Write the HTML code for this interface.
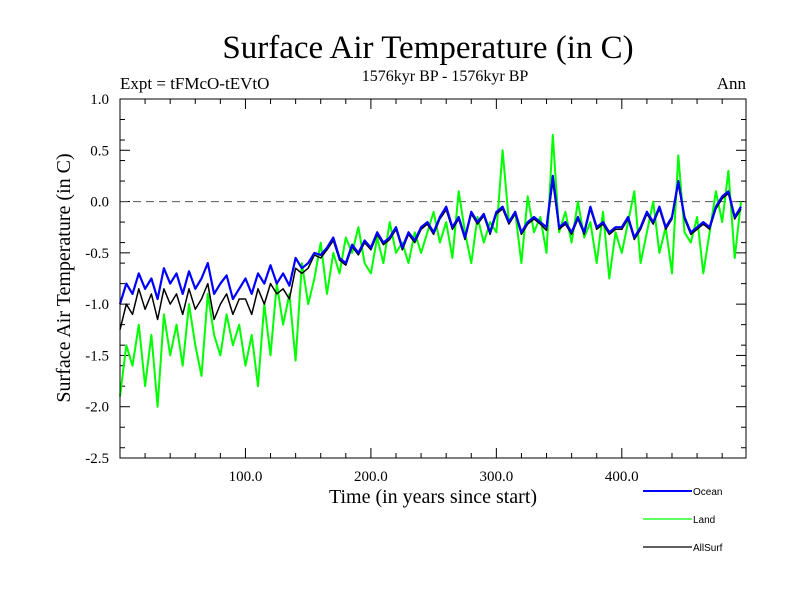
<!DOCTYPE html>
<html><head><meta charset="utf-8"><style>
body{margin:0;background:#fff;}
svg text{font-family:"Liberation Serif",serif;fill:#000;}
</style></head><body>
<svg id="chart" width="800" height="600" xmlns="http://www.w3.org/2000/svg">
<rect width="800" height="600" fill="#fff"/>
<text x="428" y="58" font-size="33" text-anchor="middle">Surface Air Temperature (in C)</text>
<text x="120" y="89" font-size="17">Expt = tFMcO-tEVtO</text>
<text x="445" y="81" font-size="16" text-anchor="middle">1576kyr BP - 1576kyr BP</text>
<text x="746" y="89" font-size="17" text-anchor="end">Ann</text>
<text transform="translate(70,278) rotate(-90)" font-size="20" text-anchor="middle">Surface Air Temperature (in C)</text>
<text x="433" y="503" font-size="20" text-anchor="middle">Time (in years since start)</text>
<g id="axes"></g>
<g id="series"></g>
<rect x="120" y="99" width="626" height="359" fill="none" stroke="#000" stroke-width="1"/>
<g>
<line x1="643" y1="491" x2="692" y2="491" stroke="#0000ff" stroke-width="2"/>
<text x="693" y="495" font-size="10" style="font-family:'Liberation Sans',sans-serif">Ocean</text>
<line x1="643" y1="519" x2="692" y2="519" stroke="#00ff00" stroke-width="1.2"/>
<text x="693" y="523" font-size="10" style="font-family:'Liberation Sans',sans-serif">Land</text>
<line x1="643" y1="547" x2="692" y2="547" stroke="#000" stroke-width="1.2"/>
<text x="693" y="551" font-size="10" style="font-family:'Liberation Sans',sans-serif">AllSurf</text>
</g>
</svg>
<script>
const startYear = 0;
const yearStep = 5;
const xTickValues = [100, 200, 300, 400];
const xTickLabels = ["100.0", "200.0", "300.0", "400.0"];
const yTickValues = [1.0, 0.5, 0.0, -0.5, -1.0, -1.5, -2.0, -2.5];
const yTickLabels = ["1.0", "0.5", "0.0", "-0.5", "-1.0", "-1.5", "-2.0", "-2.5"];
const land = [-1.9,-1.4,-1.6,-1.2,-1.8,-1.3,-2.0,-1.1,-1.5,-1.2,-1.6,-1.0,-1.4,-1.7,-0.9,-1.3,-1.5,-1.1,-1.4,-1.2,
-1.6,-1.3,-1.8,-1.0,-1.5,-0.8,-1.2,-0.9,-1.55,-0.6,-1.0,-0.75,-0.4,-0.9,-0.5,-0.7,-0.35,-0.5,-0.25,-0.6,
-0.7,-0.35,-0.6,-0.2,-0.5,-0.4,-0.6,-0.3,-0.5,-0.3,-0.1,-0.4,-0.2,-0.55,0.1,-0.3,-0.6,-0.15,-0.4,-0.2,
-0.3,0.5,-0.2,-0.1,-0.6,0.05,-0.3,-0.15,-0.5,0.65,-0.3,-0.1,-0.4,0.0,-0.35,-0.2,-0.6,-0.1,-0.75,-0.3,
-0.5,-0.2,0.1,-0.6,-0.3,0.0,-0.5,-0.25,-0.7,0.45,-0.3,-0.4,-0.15,-0.7,-0.3,0.1,-0.2,0.3,-0.55,0.0];
const allSurf = [-1.25,-1.0,-1.1,-0.85,-1.05,-0.9,-1.15,-0.85,-1.0,-0.9,-1.1,-0.85,-1.05,-0.95,-0.8,-1.15,-1.0,-0.9,-1.1,-0.95,
-0.95,-1.1,-0.85,-1.0,-0.8,-0.9,-0.85,-0.95,-0.65,-0.7,-0.65,-0.52,-0.55,-0.47,-0.38,-0.57,-0.62,-0.44,-0.52,-0.4,
-0.47,-0.32,-0.42,-0.37,-0.27,-0.47,-0.32,-0.4,-0.27,-0.22,-0.32,-0.17,-0.08,-0.27,-0.17,-0.37,-0.12,-0.22,-0.14,-0.32,
-0.12,-0.07,-0.22,-0.12,-0.32,-0.22,-0.17,-0.22,-0.28,0.2,-0.27,-0.22,-0.32,-0.17,-0.32,-0.07,-0.27,-0.22,-0.32,-0.27,
-0.27,-0.17,-0.37,-0.27,-0.12,-0.22,-0.07,-0.27,-0.17,0.17,-0.17,-0.32,-0.27,-0.22,-0.27,-0.07,0.03,0.08,-0.17,-0.07];
const ocean = [-1.0,-0.8,-0.9,-0.7,-0.85,-0.75,-0.95,-0.65,-0.8,-0.7,-0.9,-0.68,-0.85,-0.75,-0.6,-0.9,-0.8,-0.72,-0.95,-0.85,
-0.75,-0.9,-0.7,-0.8,-0.62,-0.8,-0.7,-0.82,-0.55,-0.65,-0.6,-0.5,-0.52,-0.45,-0.35,-0.55,-0.6,-0.42,-0.5,-0.38,
-0.45,-0.3,-0.4,-0.35,-0.25,-0.45,-0.3,-0.38,-0.25,-0.2,-0.3,-0.15,-0.05,-0.25,-0.15,-0.35,-0.1,-0.2,-0.12,-0.3,
-0.1,-0.05,-0.2,-0.1,-0.3,-0.2,-0.15,-0.2,-0.25,0.25,-0.25,-0.2,-0.3,-0.15,-0.3,-0.05,-0.25,-0.2,-0.3,-0.25,
-0.25,-0.15,-0.35,-0.25,-0.1,-0.2,-0.05,-0.25,-0.15,0.2,-0.15,-0.3,-0.25,-0.2,-0.25,-0.05,0.05,0.1,-0.15,-0.05];

const NS = "http://www.w3.org/2000/svg";
const X0 = 120, X1 = 746, Y0 = 99, Y1 = 458;
const xMin = 0, xMax = 499, yMin = -2.5, yMax = 1.0;
function xs(v){ return X0 + (v - xMin) / (xMax - xMin) * (X1 - X0); }
function ys(v){ return Y0 + (yMax - v) / (yMax - yMin) * (Y1 - Y0); }
function mk(tag, attrs){ const e = document.createElementNS(NS, tag); for (const k in attrs) e.setAttribute(k, attrs[k]); return e; }

const axes = document.getElementById("axes");
for (let v = 20; v < xMax; v += 20) {
  const major = v % 100 === 0;
  const len = major ? 10 : 5;
  const t1 = mk("line", {x1: xs(v), y1: Y1, x2: xs(v), y2: Y1 - len, stroke: "#000"});
  
  
  axes.appendChild(t1);
  const t2 = mk("line", {x1: xs(v), y1: Y0, x2: xs(v), y2: Y0 + len, stroke: "#000"});
  
  
  axes.appendChild(t2);
}
xTickValues.forEach((v, i) => {
  const t = mk("text", {x: xs(v), y: 481, "font-size": 15, "text-anchor": "middle"});
  t.textContent = xTickLabels[i];
  
  
  axes.appendChild(t);
});
for (let k = -25; k <= 10; k += 1) {
  const v = k / 10;
  const major = k % 5 === 0;
  if (!major && k % 2 !== 0) continue;
  const len = major ? 10 : 5;
  const t1 = mk("line", {x1: X0, y1: ys(v), x2: X0 + len, y2: ys(v), stroke: "#000"});
  
  
  axes.appendChild(t1);
  const t2 = mk("line", {x1: X1, y1: ys(v), x2: X1 - len, y2: ys(v), stroke: "#000"});
  
  
  axes.appendChild(t2);
}
yTickValues.forEach((v, i) => {
  const t = mk("text", {x: 109, y: ys(v) + 5, "font-size": 15, "text-anchor": "end"});
  t.textContent = yTickLabels[i];
  
  
  axes.appendChild(t);
});
const zero = mk("line", {x1: X0, y1: ys(0), x2: X1, y2: ys(0), stroke: "#555", "stroke-dasharray": "8,5"});


axes.appendChild(zero);

const series = document.getElementById("series");
function draw(vals, color, w, name){
  const pts = vals.map((v, i) => xs(startYear + i * yearStep).toFixed(1) + "," + ys(v).toFixed(1)).join(" ");
  const p = mk("polyline", {points: pts, fill: "none", stroke: color, "stroke-width": w, "stroke-linejoin": "round"});
  
  
  series.appendChild(p);
}
draw(land, "#00ff00", 2, "land-line");
draw(allSurf, "#000000", 1.5, "allsurf-line");
draw(ocean, "#0000ff", 2.2, "ocean-line");
</script>
</body></html>
